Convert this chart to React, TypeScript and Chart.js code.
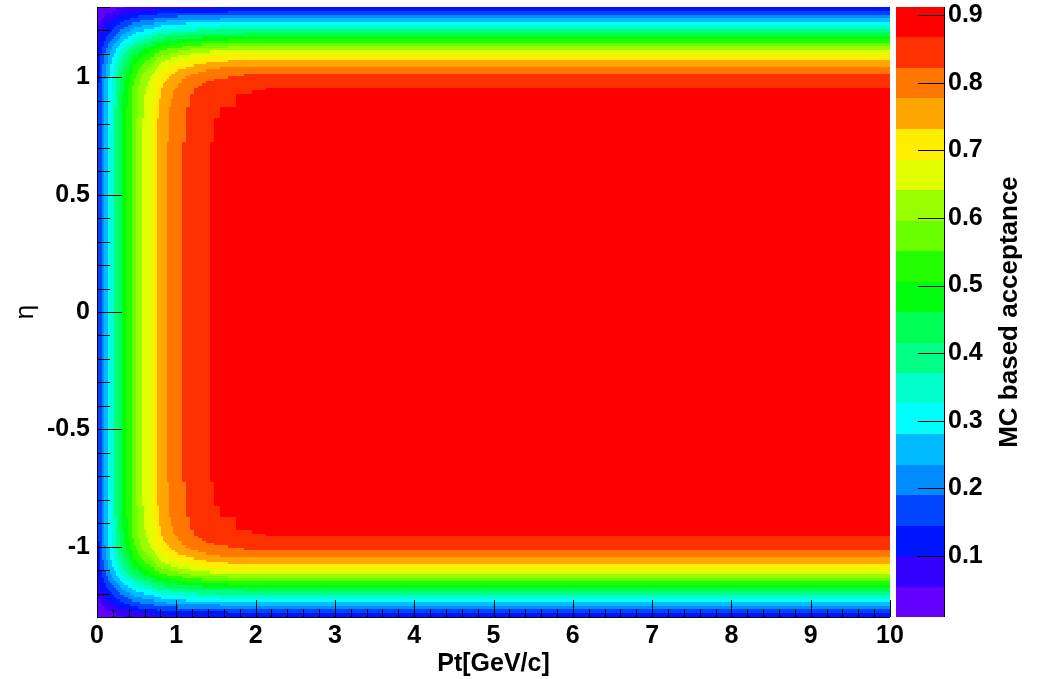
import React, { useEffect, useRef } from 'react';
import { Chart, registerables } from 'chart.js';

Chart.register(...registerables);

// acceptance along eta = 0 as a function of Pt [GeV/c]
const ptValues = [
  0, 0.025, 0.05, 0.075, 0.1, 0.125, 0.15, 0.175, 0.2, 0.225, 0.25, 0.275, 0.3, 0.325, 0.35, 0.375,
  0.4, 0.425, 0.45, 0.475, 0.5, 0.525, 0.55, 0.575, 0.6, 0.625, 0.65, 0.675, 0.7, 0.725, 0.75, 0.775,
  0.8, 0.825, 0.85, 0.875, 0.9, 0.925, 0.95, 0.975, 1.0, 1.05, 1.1, 1.15, 1.2, 1.25, 1.3, 1.35, 1.4,
  1.45, 1.5, 1.6, 1.7, 1.8, 1.9, 2.0, 2.25, 2.5, 3, 5, 10,
];
const ptAcceptance = [
  0.12, 0.152, 0.19, 0.222, 0.25, 0.276, 0.3, 0.326, 0.35, 0.375, 0.4, 0.425, 0.45, 0.47, 0.49, 0.51,
  0.53, 0.55, 0.57, 0.585, 0.6, 0.617, 0.632, 0.644, 0.655, 0.665, 0.675, 0.685, 0.695, 0.709, 0.722, 0.734,
  0.745, 0.754, 0.762, 0.77, 0.777, 0.784, 0.79, 0.795, 0.8, 0.812, 0.822, 0.83, 0.838, 0.845, 0.852, 0.858, 0.863,
  0.867, 0.871, 0.876, 0.88, 0.884, 0.887, 0.889, 0.89, 0.89, 0.89, 0.89, 0.89,
];

// relative fall-off in eta, read at high Pt
const etaValues = [
  -1.3, -1.29, -1.28, -1.27, -1.26, -1.25, -1.24, -1.23, -1.22, -1.21, -1.2, -1.19, -1.18, -1.17,
  -1.16, -1.15, -1.14, -1.13, -1.12, -1.11, -1.1, -1.09, -1.08, -1.07, -1.06, -1.05, -1.04, -1.03,
  -1.02, -1.01, -1.0, -0.99, -0.98, -0.97, -0.96, -0.95, -0.94, -0.92, -0.9, -0.85, -0.8, -0.75, -0.7, -0.5, 0,
  0.5, 0.7, 0.75, 0.8, 0.85, 0.9, 0.92, 0.94, 0.95, 0.96, 0.97, 0.98, 0.99, 1.0,
  1.01, 1.02, 1.03, 1.04, 1.05, 1.06, 1.07, 1.08, 1.09, 1.1, 1.11, 1.12, 1.13, 1.14,
  1.15, 1.16, 1.17, 1.18, 1.19, 1.2, 1.21, 1.22, 1.23, 1.24, 1.25, 1.26, 1.27, 1.28, 1.29, 1.3,
];
const etaFactor = [
  0.115, 0.14, 0.165, 0.2, 0.235, 0.27, 0.305, 0.338, 0.372, 0.403, 0.435, 0.47, 0.505, 0.54,
  0.575, 0.61, 0.645, 0.678, 0.714, 0.742, 0.766, 0.792, 0.815, 0.835, 0.852, 0.868, 0.888, 0.903,
  0.918, 0.929, 0.937, 0.945, 0.953, 0.961, 0.968, 0.975, 0.977, 0.981, 0.985, 0.992, 0.997, 0.999, 1, 1, 1,
  1, 1, 0.999, 0.997, 0.992, 0.985, 0.981, 0.977, 0.975, 0.968, 0.961, 0.953, 0.945, 0.937,
  0.929, 0.918, 0.903, 0.888, 0.868, 0.852, 0.835, 0.815, 0.792, 0.766, 0.742, 0.714, 0.678, 0.645,
  0.61, 0.575, 0.54, 0.505, 0.47, 0.435, 0.403, 0.372, 0.338, 0.305, 0.27, 0.235, 0.2, 0.165, 0.14, 0.115,
];

const zTicks = [0.1, 0.2, 0.3, 0.4, 0.5, 0.6, 0.7, 0.8, 0.9];
const Z_MIN = 0.0096;
const Z_MAX = 0.912;
const N_LEVELS = 20;

const FONT = "'Liberation Sans', Arial, Helvetica, sans-serif";

// ROOT "pretty" palette (50 hues) sampled for 20 contours
const bandColor = (k: number) => {
  const idx = Math.floor(((k + 0.99) * 50) / N_LEVELS);
  const hue = 280 - (idx + 1) * 5.6;
  return `hsl(${hue}, 100%, 50%)`;
};

const cellEdges = (vals: number[]) =>
  vals.map((v, i) => [
    i === 0 ? v - (vals[1] - v) / 2 : (vals[i - 1] + v) / 2,
    i === vals.length - 1 ? v + (v - vals[i - 1]) / 2 : (v + vals[i + 1]) / 2,
  ]);

const heatmapPlugin = {
  id: 'heatmap',
  beforeDatasetsDraw(chart: any) {
    const { ctx, chartArea: a, scales } = chart;
    const { x, y } = scales;
    const step = (Z_MAX - Z_MIN) / N_LEVELS;
    const ptE = cellEdges(ptValues);
    const etaE = cellEdges(etaValues);
    ctx.save();
    ctx.beginPath();
    ctx.rect(a.left, a.top, a.right - a.left, a.bottom - a.top);
    ctx.clip();
    ptValues.forEach((_, i) => {
      const x0 = Math.round(x.getPixelForValue(ptE[i][0]));
      const x1 = Math.round(x.getPixelForValue(ptE[i][1]));
      etaValues.forEach((_, j) => {
        const y0 = Math.round(y.getPixelForValue(etaE[j][1]));
        const y1 = Math.round(y.getPixelForValue(etaE[j][0]));
        const z = ptAcceptance[i] * etaFactor[j];
        const k = Math.floor((z - Z_MIN) / step);
        if (k < 0) return;
        ctx.fillStyle = bandColor(Math.min(k, N_LEVELS - 1));
        ctx.fillRect(x0, y0, x1 - x0, y1 - y0);
      });
    });
    ctx.restore();
  },
};

const axesPlugin = {
  id: 'rootAxes',
  afterDraw(chart: any) {
    const { ctx, chartArea: a, scales } = chart;
    const { x, y, z } = scales;
    ctx.save();
    ctx.strokeStyle = '#000';
    ctx.lineWidth = 1;
    ctx.beginPath();
    // frame axes
    ctx.moveTo(a.left + 0.5, a.top);
    ctx.lineTo(a.left + 0.5, a.bottom + 0.5);
    ctx.lineTo(a.right, a.bottom + 0.5);
    // x ticks, pointing up
    for (let i = 0; i <= 50; i++) {
      const px = Math.round(x.getPixelForValue(i * 0.2)) + 0.5;
      const len = i % 5 === 0 ? 17 : 8;
      ctx.moveTo(px, a.bottom);
      ctx.lineTo(px, a.bottom - len);
    }
    // y ticks, pointing right
    for (let i = -13; i <= 13; i++) {
      const py = Math.round(y.getPixelForValue(i / 10)) + 0.5;
      const len = i % 5 === 0 ? 25 : 13;
      ctx.moveTo(a.left, py);
      ctx.lineTo(a.left + len, py);
    }
    ctx.stroke();

    // colour bar
    const barL = a.right + 6;
    const barR = a.right + 54;
    const step = (Z_MAX - Z_MIN) / N_LEVELS;
    for (let k = 0; k < N_LEVELS; k++) {
      const yTop = Math.round(z.getPixelForValue(Z_MIN + (k + 1) * step));
      const yBot = Math.round(z.getPixelForValue(Z_MIN + k * step));
      ctx.fillStyle = bandColor(k);
      ctx.fillRect(barL, yTop, barR - barL, yBot - yTop);
    }
    ctx.beginPath();
    ctx.moveTo(barR + 0.5, a.top);
    ctx.lineTo(barR + 0.5, a.bottom);
    zTicks.forEach((t) => {
      const py = Math.round(z.getPixelForValue(t)) + 0.5;
      ctx.moveTo(barR, py);
      ctx.lineTo(barR - 26, py);
    });
    ctx.stroke();

    // colour bar title
    ctx.translate(1010, (a.top + a.bottom) / 2);
    ctx.rotate(-Math.PI / 2);
    ctx.fillStyle = '#000';
    ctx.font = `bold 26px ${FONT}`;
    ctx.textAlign = 'center';
    ctx.textBaseline = 'middle';
    ctx.fillText('MC based acceptance', 0, 0);
    ctx.restore();
  },
};

const noPad = (s: any) => {
  s.paddingTop = 0;
  s.paddingBottom = 0;
  s.paddingLeft = 0;
  s.paddingRight = 0;
};

const App = () => {
  const canvasRef = useRef<HTMLCanvasElement>(null);

  useEffect(() => {
    const tickFont = { family: FONT, size: 25, weight: 'bold' as const };
    const chart = new Chart(canvasRef.current as HTMLCanvasElement, {
      type: 'scatter',
      data: { datasets: [] },
      options: {
        animation: false,
        responsive: true,
        maintainAspectRatio: false,
        layout: { padding: { top: 7, left: 0, right: 0, bottom: 0 } },
        plugins: { legend: { display: false }, tooltip: { enabled: false } },
        scales: {
          x: {
            type: 'linear',
            position: 'bottom',
            min: 0,
            max: 10,
            grid: { display: false, drawTicks: false },
            border: { display: false },
            ticks: { stepSize: 1, includeBounds: false, color: '#000', font: tickFont, padding: 4, callback: (v) => String(v) },
            title: {
              display: true,
              text: 'Pt[GeV/c]',
              color: '#000',
              font: { family: FONT, size: 25, weight: 'bold' },
              padding: { top: 0, bottom: 0 },
            },
            afterFit: (s) => { s.height = 62; noPad(s); },
          },
          y: {
            type: 'linear',
            position: 'left',
            min: -1.3,
            max: 1.3,
            grid: { display: false, drawTicks: false },
            border: { display: false },
            ticks: { stepSize: 0.5, includeBounds: false, color: '#000', font: tickFont, padding: 7, callback: (v) => String(v) },
            title: {
              display: true,
              text: 'η',
              color: '#000',
              font: { family: FONT, size: 26, weight: 'normal' },
              padding: { top: 10, bottom: 0 },
            },
            afterFit: (s) => { s.width = 97; noPad(s); },
          },
          z: {
            type: 'linear',
            position: 'right',
            display: true,
            min: Z_MIN,
            max: Z_MAX,
            grid: { display: false, drawTicks: false },
            border: { display: false },
            ticks: {
              stepSize: 0.1,
              includeBounds: false,
              color: '#000',
              font: tickFont,
              padding: 58,
              callback: (v) => Number(v).toFixed(1),
            },
            afterFit: (s) => { s.width = 148; noPad(s); },
          },
        },
      },
      plugins: [heatmapPlugin, axesPlugin],
    });
    return () => chart.destroy();
  }, []);

  return (
    <div style={{ position: 'absolute', left: 0, top: 0, width: 1038, height: 679, background: '#fff' }}>
      <canvas ref={canvasRef} />
    </div>
  );
};

export default App;
